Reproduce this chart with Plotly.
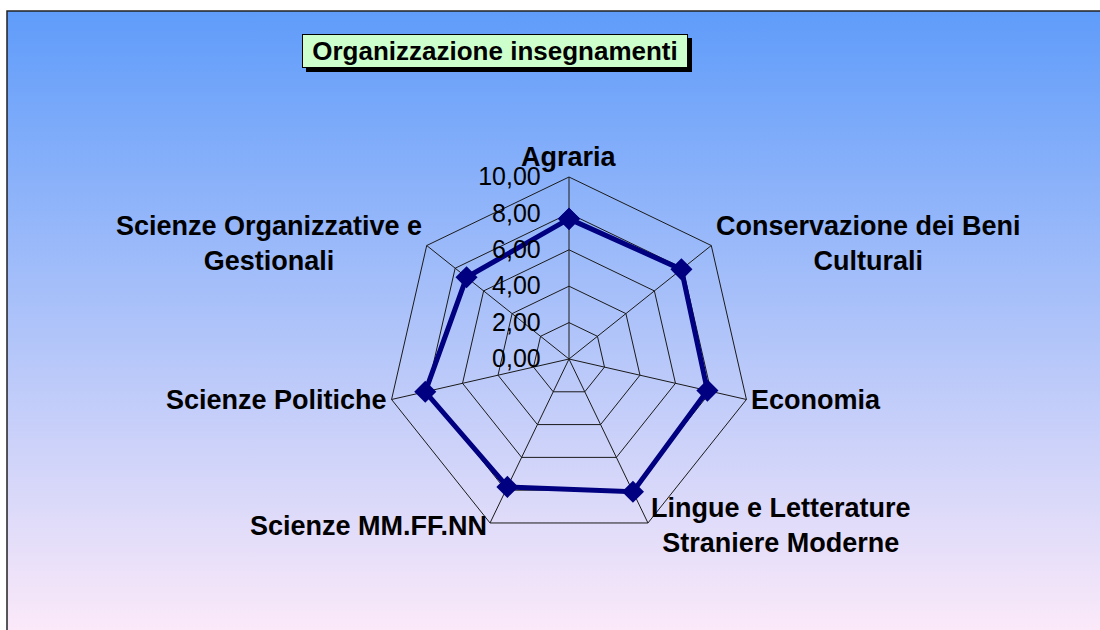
import base64
import math
import plotly.graph_objects as go

categories = [
    "Agraria",
    "Conservazione dei Beni<br>Culturali",
    "Economia",
    "Lingue e Letterature<br>Straniere Moderne",
    "Scienze MM.FF.NN",
    "Scienze Politiche",
    "Scienze Organizzative e<br>Gestionali",
]
values = [7.7, 7.9, 7.8, 8.1, 7.8, 8.1, 7.2]
radial_ticks = [0, 2, 4, 6, 8, 10]

W, H = 1100, 630

# excel-like vertical gradient for the chart area
svg = (
    '<svg xmlns="http://www.w3.org/2000/svg" width="100" height="100" preserveAspectRatio="none">'
    '<defs><linearGradient id="g" x1="0" y1="0" x2="0" y2="1">'
    '<stop offset="0" stop-color="#5f9cfa"/>'
    '<stop offset="1" stop-color="#fbe9f9"/>'
    "</linearGradient></defs>"
    '<rect width="100" height="100" fill="url(#g)"/></svg>'
)
bg_src = "data:image/svg+xml;base64," + base64.b64encode(svg.encode()).decode()

fig = go.Figure()
fig.add_trace(
    go.Scatterpolar(
        r=values + values[:1],
        theta=categories + categories[:1],
        mode="lines+markers",
        line=dict(color="#000080", width=5),
        marker=dict(symbol="diamond", size=17, color="#000080"),
        showlegend=False,
        hoverinfo="r+theta",
    )
)

cx, cy, rad = 569, 359, 182

# category labels placed excel-style: box edge touches a point just outside the web
label_r = 185
labels = []
n = len(categories)
for i, cat in enumerate(categories):
    a = 2 * math.pi * i / n
    px_, py_ = cx + label_r * math.sin(a), cy - label_r * math.cos(a)
    s = math.sin(a)
    if abs(s) < 0.05:
        xa, ya = "center", "bottom"
    else:
        xa, ya = ("left" if s > 0 else "right"), "middle"
    labels.append(
        dict(
            text="<b>" + cat + "</b>",
            xref="paper", yref="paper",
            x=px_ / W, y=1 - py_ / H,
            xanchor=xa, yanchor=ya,
            align="center",
            showarrow=False,
            font=dict(size=27, color="black"),
        )
    )

fig.update_layout(
    width=W,
    height=H,
    margin=dict(l=0, r=0, t=0, b=0),
    paper_bgcolor="white",
    separators=",.",
    font=dict(family="Liberation Sans, Arial, sans-serif", color="black"),
    polar=dict(
        domain=dict(
            x=[(cx - rad) / W, (cx + rad) / W],
            y=[(H - cy - rad) / H, (H - cy + rad) / H],
        ),
        bgcolor="rgba(0,0,0,0)",
        gridshape="linear",
        radialaxis=dict(
            range=[0, 10],
            tickvals=radial_ticks,
            tickformat=".2f",
            angle=90,
            tickangle=90,
            side="counterclockwise",
            showline=False,
            ticks="outside",
            ticklen=19,
            tickcolor="rgba(0,0,0,0)",
            gridcolor="#1a1a1a",
            gridwidth=1,
            tickfont=dict(size=25, color="black"),
        ),
        angularaxis=dict(
            direction="clockwise",
            rotation=90,
            gridcolor="#1a1a1a",
            gridwidth=1,
            linecolor="#1a1a1a",
            linewidth=1,
            ticks="",
            showticklabels=False,
        ),
    ),
    images=[
        dict(
            source=bg_src,
            xref="paper",
            yref="paper",
            x=7 / W,
            y=1 - 11 / H,
            sizex=1 - 7 / W,
            sizey=1 - 11 / H,
            sizing="stretch",
            xanchor="left",
            yanchor="top",
            layer="below",
        )
    ],
    shapes=[
        # chart border
        dict(
            type="rect", xref="paper", yref="paper",
            x0=7 / W, x1=1.01, y0=-0.01, y1=1 - 11 / H,
            line=dict(color="#222222", width=1.5),
        ),
        # title box shadow
        dict(
            type="rect", xref="paper", yref="paper",
            x0=306 / W, x1=692 / W, y0=1 - 72 / H, y1=1 - 38 / H,
            fillcolor="black", line=dict(width=0),
        ),
    ],
    annotations=[
        dict(
            text="<b>Organizzazione insegnamenti</b>",
            xref="paper", yref="paper",
            x=495 / W, y=1 - 51 / H,
            xanchor="center", yanchor="middle",
            showarrow=False,
            font=dict(size=26, color="black"),
            bgcolor="#ccffcc",
            bordercolor="black",
            borderwidth=1,
            borderpad=0,
            width=384,
            height=32,
        )
    ]
    + labels,
)

fig.write_html(
    "out.html",
    config={"displayModeBar": False},
    post_script="document.body.style.margin='0';",
)
